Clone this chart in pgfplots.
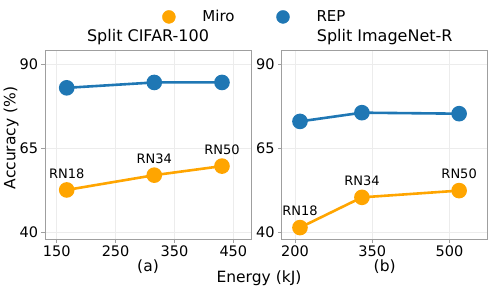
\documentclass[border=0pt]{standalone}
\usepackage{pgfplots}
\pgfplotsset{compat=1.18}
\usepackage{fontspec}
\setmainfont{DejaVu Sans}
\definecolor{miro}{HTML}{FFA500}
\definecolor{rep}{HTML}{1F77B4}
\begin{document}
\begin{tikzpicture}
\pgfplotsset{
 every axis/.append style={
  scale only axis, width=206bp, height=189bp,
  ymin=38, ymax=94.26, ytick={40,65,90},
  grid=major, grid style={gray!15, line width=0.6bp},
  axis line style={gray!75, line width=0.9bp},
  tick style={gray!75, line width=0.8bp}, major tick length=3.5bp, tick align=outside,
  xtick pos=bottom, ytick pos=left,
  ticklabel style={font=\fontsize{14.5bp}{17bp}\selectfont},
  /pgf/number format/assume math mode=true,
  /pgf/number format/1000 sep={},
  title style={font=\fontsize{16bp}{19bp}\selectfont, at={(axis description cs:0.5,1)}, anchor=base, yshift=2.5bp},
  every axis x label/.style={at={(axis description cs:0.5,0)}, anchor=center, yshift=-27.7bp, font=\fontsize{15.5bp}{18bp}\selectfont},
  every axis y label/.style={at={(axis description cs:-0.165,0.534)}, anchor=center, rotate=90, font=\fontsize{15.5bp}{18bp}\selectfont},
 },
 miro/.style={color=miro, line width=2.6bp, mark=*, mark size=6.5bp, mark options={solid},
   nodes near coords, point meta=explicit symbolic,
   nodes near coords style={anchor=center, yshift=16.5bp, text=black, font=\fontsize{13bp}{15bp}\selectfont}},
 rep/.style={color=rep, line width=2.6bp, mark=*, mark size=6.5bp},
}
\begin{axis}[name=left, title={Split CIFAR-100}, xlabel={(a)}, ylabel={Accuracy (\%)},
  xmin=130.1, xmax=480, xtick={150,250,350,450},
  legend columns=2,
  legend style={at={(axis description cs:1.019,1.175)}, anchor=center, draw=none, fill=none,
    font=\fontsize{15bp}{18bp}\selectfont,
    /tikz/every odd column/.append style={column sep=25bp},
    /tikz/every even column/.append style={column sep=40bp}},
]
\addlegendimage{only marks, mark=*, color=miro, mark size=6.5bp}
\addlegendentry{Miro}
\addlegendimage{only marks, mark=*, color=rep, mark size=6.5bp}
\addlegendentry{REP}
\addplot[miro, forget plot] table[meta=label] {
x y label
167 52.6 RN18
315.7 57.0 RN34
430.7 59.7 RN50
};
\addplot[rep, forget plot] table {
x y
167 83.0
315.7 84.6
430.7 84.6
};
\end{axis}
\begin{axis}[xshift=236.7bp, title={Split ImageNet-R}, xlabel={(b)},
  xmin=174.2, xmax=574.3, xtick={200,350,500}]
\addplot[miro] table[meta=label] {
x y label
209.7 41.4 RN18
330 50.4 RN34
518.8 52.4 RN50
};
\addplot[rep] table {
x y
209.7 73.0
330 75.6
518.8 75.3
};
\end{axis}
\node[font=\fontsize{15.5bp}{18bp}\selectfont, anchor=center] at (214bp,-39bp) {Energy (kJ)};
\useasboundingbox (-45bp,-60bp) rectangle (453bp,239bp);
\end{tikzpicture}
\end{document}
